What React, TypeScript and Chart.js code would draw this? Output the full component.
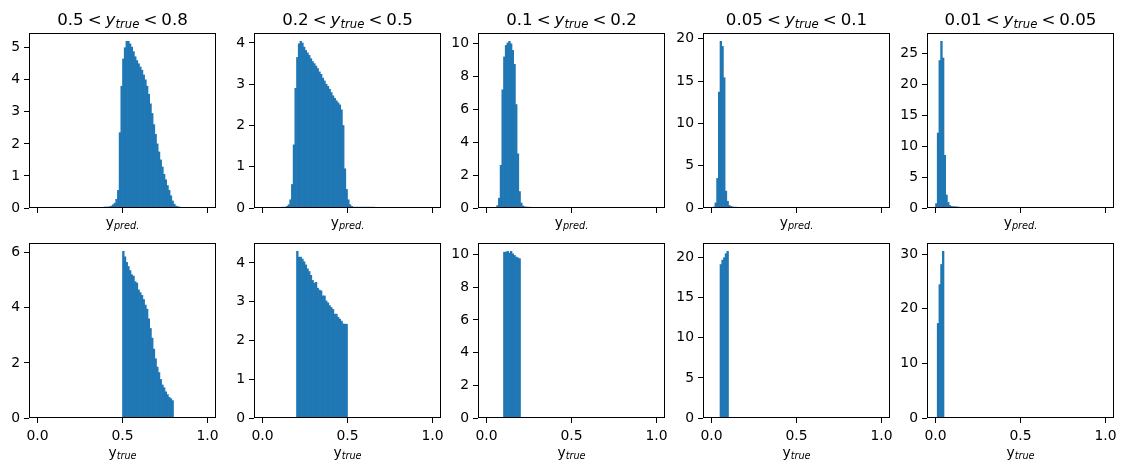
import React, { useEffect, useRef } from "react";
import { Chart, registerables } from "chart.js";

Chart.register(...registerables);

// ---------- data ----------
const binCount = 100;
const binWidth = 0.01;

const rangeLow = ["0.5", "0.2", "0.1", "0.05", "0.01"];
const rangeHigh = ["0.8", "0.5", "0.2", "0.1", "0.05"];

const xTickValues = [0, 0.5, 1.0];
const xTickLabels = ["0.0", "0.5", "1.0"];

const predYStep = [1, 1, 2, 5, 5];
const trueYStep = [2, 1, 2, 5, 10];

// predicted-value densities (first bin index, then one value per 0.01 bin)
const pred1Start = 34;
const pred1 = [
  0.02, 0.02, 0.02, 0.02, 0.02, 0.03, 0.03, 0.03, 0.04, 0.06,
  0.1, 0.15, 0.27, 0.55, 2.35, 3.8, 4.65, 5.0, 5.2, 5.2,
  5.12, 5.02, 4.88, 4.72, 4.6, 4.5, 4.4, 4.3, 4.15, 4.0,
  3.8, 3.55, 3.25, 2.95, 2.6, 2.3, 2.0, 1.75, 1.5, 1.28,
  1.05, 0.88, 0.7, 0.55, 0.38, 0.22, 0.12, 0.06, 0.04, 0.03,
  0.02, 0.02,
];
const pred2Start = 11;
const pred2 = [
  0.02, 0.02, 0.02, 0.04, 0.08, 0.2, 0.57, 1.53, 2.9, 3.65,
  3.98, 4.04, 4.0, 3.9, 3.82, 3.76, 3.7, 3.62, 3.55, 3.5,
  3.44, 3.38, 3.3, 3.24, 3.15, 3.08, 3.0, 2.95, 2.88, 2.8,
  2.72, 2.66, 2.6, 2.55, 2.5, 2.38, 2.0, 0.95, 0.45, 0.2,
  0.08, 0.04, 0.02, 0.02, 0.02, 0.02, 0.02, 0.02, 0.02, 0.02,
  0.02, 0.02, 0.02, 0.02, 0.02,
];
const pred3Start = 5;
const pred3 = [
  0.04, 0.15, 0.6, 2.6, 7.2, 9.2, 9.9, 10.05, 10.15, 10.0,
  9.6, 8.75, 6.3, 3.3, 1.0, 0.3, 0.12, 0.07, 0.06, 0.05,
  0.05, 0.04, 0.04, 0.04, 0.03, 0.03, 0, 0.04, 0.03, 0,
  0.03, 0.03, 0.03,
];
const pred4Start = 0;
const pred4 = [
  0.08, 0.12, 0.6, 3.5, 13.7, 19.7, 19.1, 15.4, 2.0, 0.8,
  0.3, 0.18, 0.12, 0.1, 0.1, 0.08, 0.08, 0.06, 0.06, 0, 0.08,
];
const pred5Start = 0;
const pred5 = [0.7, 12.1, 23.8, 26.9, 24.2, 8.5, 2.1, 0.9, 0.4, 0.25, 0.2, 0.2, 0.18, 0.15];

// true-value densities
const true1Start = 50;
const true1 = [
  6.05, 5.85, 5.65, 5.5, 5.35, 5.2, 5.15, 4.95, 4.9, 4.65,
  4.55, 4.45, 4.3, 4.1, 3.95, 3.6, 3.25, 2.9, 2.5, 2.15,
  1.85, 1.65, 1.4, 1.2, 1.1, 0.95, 0.85, 0.75, 0.7, 0.63,
];
const true2Start = 20;
const true2 = [
  4.3, 4.15, 4.15, 4.1, 4.03, 3.95, 3.85, 3.78, 3.68, 3.55,
  3.48, 3.5, 3.35, 3.3, 3.28, 3.15, 3.15, 3.02, 2.97, 2.9,
  2.85, 2.8, 2.68, 2.68, 2.6, 2.55, 2.5, 2.43, 2.42, 2.42,
];
const true3Start = 10;
const true3 = [10.15, 10.15, 10.2, 10.1, 10.2, 10.05, 9.95, 9.85, 9.8, 9.75];
const true4Start = 5;
const true4 = [19.15, 19.7, 20.0, 20.5, 20.8];
const true5Start = 1;
const true5 = [17.3, 24.4, 28.1, 30.5];

const predSeries = [
  [pred1Start, pred1], [pred2Start, pred2], [pred3Start, pred3], [pred4Start, pred4], [pred5Start, pred5],
] as [number, number[]][];
const trueSeries = [
  [true1Start, true1], [true2Start, true2], [true3Start, true3], [true4Start, true4], [true5Start, true5],
] as [number, number[]][];

// ---------- layout ----------
const colLeft = [29, 254, 478, 703, 927];
const rowTop = [33, 243];
const AX_W = 187;
const AX_H = 175;
const PADL = 29;
const PADT = 33;
const PADR = 12;
const PADB = [30, 50];
const BAR_COLOR = "#1f77b4";
const FAMILY = '"DejaVu Sans"';

type Part = { t: string; italic?: boolean; sub?: boolean; gap?: number };

function fontStr(size: number, italic?: boolean) {
  return `${italic ? "italic " : ""}${size}px ${FAMILY}`;
}

function drawParts(
  ctx: CanvasRenderingContext2D,
  parts: Part[],
  cx: number,
  baseline: number,
  size: number,
  subShift: number
) {
  const sz = (p: Part) => (p.sub ? size * 0.7 : size);
  const widths = parts.map((p) => {
    ctx.font = fontStr(sz(p), p.italic);
    return ctx.measureText(p.t).width;
  });
  const total = widths.reduce((a, b) => a + b, 0) + parts.reduce((a, p) => a + (p.gap || 0), 0);
  let x = cx - total / 2;
  ctx.fillStyle = "#000";
  ctx.textAlign = "left";
  ctx.textBaseline = "alphabetic";
  parts.forEach((p, i) => {
    x += p.gap || 0;
    ctx.font = fontStr(sz(p), p.italic);
    ctx.fillText(p.t, x, baseline + (p.sub ? subShift : 0));
    x += widths[i];
  });
}

function Panel({ row, col }: { row: number; col: number }) {
  const ref = useRef<HTMLCanvasElement>(null);
  const padB = PADB[row];
  const width = PADL + AX_W + PADR;
  const height = PADT + AX_H + padB;

  useEffect(() => {
    const canvas = ref.current;
    if (!canvas) return;
    const [start, vals] = row === 0 ? predSeries[col] : trueSeries[col];
    const points = vals
      .map((v, i) => ({ x: (start + i + 0.5) * binWidth, y: v }))
      .filter((p) => p.y > 0 && p.x < binCount * binWidth);
    const yMax = Math.max(...vals) * 1.05;
    const step = row === 0 ? predYStep[col] : trueYStep[col];

    const titleParts: Part[] = [
      { t: rangeLow[col] },
      { t: "<", gap: 4 },
      { t: "y", italic: true, gap: 4 },
      { t: "true", italic: true, sub: true },
      { t: "<", gap: 4 },
      { t: rangeHigh[col], gap: 4 },
    ];
    const labelParts: Part[] =
      row === 0
        ? [{ t: "y" }, { t: "pred.", italic: true, sub: true }]
        : [{ t: "y" }, { t: "true", italic: true, sub: true }];

    const framePlugin = {
      id: "frame" + row + col,
      afterDraw(chart: any) {
        const { ctx, chartArea } = chart;
        const { left, top, right, bottom } = chartArea;
        ctx.save();
        ctx.strokeStyle = "#000";
        ctx.lineWidth = 1;
        ctx.strokeRect(left + 0.5, top + 0.5, right - left - 1, bottom - top - 1);
        if (row === 0) {
          drawParts(ctx, titleParts, (left + right) / 2, top - 8, 16.67, 2.5);
          drawParts(ctx, labelParts, (left + right) / 2, bottom + 19, 13.9, 2);
        } else {
          drawParts(ctx, labelParts, (left + right) / 2, bottom + 39, 13.9, 2);
        }
        ctx.restore();
      },
    };

    const tickFont = { family: FAMILY, size: 13.9 };
    const chart = new Chart(canvas, {
      type: "bar",
      data: {
        datasets: [
          {
            data: points as any,
            backgroundColor: BAR_COLOR,
            borderWidth: 0,
            barPercentage: 1,
            categoryPercentage: 1,
          },
        ],
      },
      options: {
        responsive: false,
        animation: false,
        devicePixelRatio: 1,
        events: [],
        layout: { padding: { left: 0, top: PADT, right: PADR, bottom: 0 } },
        plugins: {
          legend: { display: false },
          title: { display: false },
          tooltip: { enabled: false },
        },
        scales: {
          x: {
            type: "linear",
            min: -0.05,
            max: 1.05,
            offset: false,
            afterBuildTicks: (s: any) => {
              s.ticks = xTickValues.map((v) => ({ value: v }));
            },
            afterFit: (s: any) => {
              s.height = padB;
            },
            ticks: {
              autoSkip: false,
              maxRotation: 0,
              minRotation: 0,
              color: "#000",
              font: tickFont,
              padding: 5,
              callback: (_v: any, i: number) => (row === 1 ? xTickLabels[i] : ""),
            },
            grid: {
              offset: false,
              drawOnChartArea: false,
              drawTicks: true,
              tickLength: 5,
              tickWidth: 1,
              tickColor: "#000",
            },
            border: { display: false },
          },
          y: {
            type: "linear",
            min: 0,
            max: yMax,
            afterFit: (s: any) => {
              s.width = PADL;
            },
            ticks: {
              stepSize: step,
              includeBounds: false,
              color: "#000",
              font: tickFont,
              padding: 4,
            },
            grid: {
              offset: false,
              drawOnChartArea: false,
              drawTicks: true,
              tickLength: 5,
              tickWidth: 1,
              tickColor: "#000",
            },
            border: { display: false },
          },
        },
      } as any,
      plugins: [framePlugin],
    });
    return () => chart.destroy();
  }, [row, col]);

  return (
    <canvas
      ref={ref}
      width={width}
      height={height}
      style={{
        position: "absolute",
        left: colLeft[col] - PADL,
        top: rowTop[row] - PADT,
        width,
        height,
      }}
    />
  );
}

export default function App() {
  const panels: { row: number; col: number }[] = [];
  for (let r = 0; r < 2; r++) for (let c = 0; c < 5; c++) panels.push({ row: r, col: c });
  return (
    <div
      style={{
        position: "absolute",
        left: 0,
        top: 0,
        width: 1126,
        height: 472,
        background: "#fff",
        overflow: "hidden",
      }}
    >
      {panels.map((p) => (
        <Panel key={`${p.row}-${p.col}`} row={p.row} col={p.col} />
      ))}
    </div>
  );
}
